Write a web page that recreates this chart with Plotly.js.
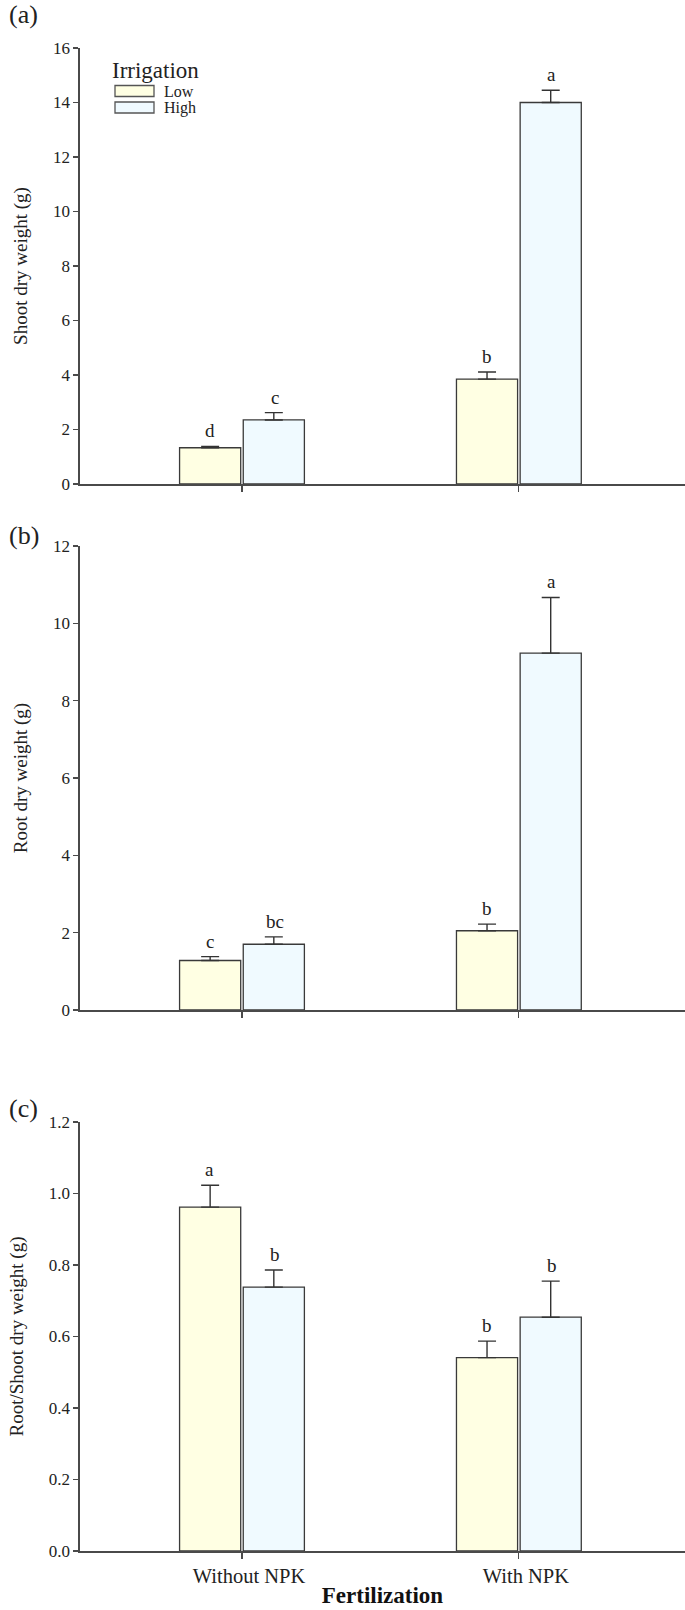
<!DOCTYPE html>
<html>
<head>
<meta charset="utf-8">
<script src="https://cdn.plot.ly/plotly-3.0.1.min.js"></script>
<style>html,body{margin:0;padding:0;background:#fff;}#chart{width:685px;height:1610px;}</style>
</head>
<body>
<div id="chart"></div>
<script>
// ---- data ----
const categories = ["Without NPK", "With NPK"];
const seriesNames = ["Low", "High"];

const shootLow = [1.33, 3.85];
const shootLowErr = [0.05, 0.26];
const shootHigh = [2.35, 14.0];
const shootHighErr = [0.27, 0.45];
const shootLowLetters = ["d", "b"];
const shootHighLetters = ["c", "a"];

const rootLow = [1.28, 2.05];
const rootLowErr = [0.10, 0.17];
const rootHigh = [1.70, 9.23];
const rootHighErr = [0.19, 1.44];
const rootLowLetters = ["c", "b"];
const rootHighLetters = ["bc", "a"];

const ratioLow = [0.962, 0.541];
const ratioLowErr = [0.061, 0.046];
const ratioHigh = [0.738, 0.654];
const ratioHighErr = [0.048, 0.101];
const ratioLowLetters = ["a", "b"];
const ratioHighLetters = ["b", "b"];

const yTitles = ["Shoot dry weight (g)", "Root dry weight (g)", "Root/Shoot dry weight (g)"];
const panelLabels = ["(a)", "(b)", "(c)"];
const xTitle = "Fertilization";
const legendTitle = "Irrigation";

// ---- styling ----
const FONT = "Liberation Serif, Times New Roman, serif";
const seriesColors = ["#FFFFE3", "#F0FAFF"];
const edge = "#3a3a3a";
const axisColor = "#4a4a4a";
const W = 685, H = 1610, ML = 80, PW = W - ML;
const px2x = (px) => (px - ML) / PW;
const px2y = (py) => 1 - py / H;

const panels = [
  {low: shootLow, lowErr: shootLowErr, high: shootHigh, highErr: shootHighErr,
   lowL: shootLowLetters, highL: shootHighLetters, range: [0, 16], dtick: 2, tickformat: "d"},
  {low: rootLow, lowErr: rootLowErr, high: rootHigh, highErr: rootHighErr,
   lowL: rootLowLetters, highL: rootHighLetters, range: [0, 12], dtick: 2, tickformat: "d"},
  {low: ratioLow, lowErr: ratioLowErr, high: ratioHigh, highErr: ratioHighErr,
   lowL: ratioLowLetters, highL: ratioHighLetters, range: [0, 1.2], dtick: 0.2, tickformat: ".1f"}
];

// pixel extents of each plot (top, bottom) and panel-label offsets
const extents = [[48, 484], [546, 1010], [1122, 1551]];
const labelOffsets = [33, 11, 14];

const traces = [];
const annotations = [];
const shapes = [];
const layout = {
  width: W, height: H,
  margin: {l: ML, r: 0, t: 0, b: 0},
  paper_bgcolor: "#fff", plot_bgcolor: "#fff",
  barmode: "group", bargap: 0.54, bargroupgap: 0.04,
  font: {family: FONT, color: "#222"},
  showlegend: false,
  annotations: annotations,
  shapes: shapes
};

panels.forEach((p, i) => {
  const n = i + 1;
  const xa = n === 1 ? "x" : "x" + n;
  const ya = n === 1 ? "y" : "y" + n;
  const xKey = n === 1 ? "xaxis" : "xaxis" + n;
  const yKey = n === 1 ? "yaxis" : "yaxis" + n;
  const [top, bot] = extents[i];

  [[p.low, p.lowErr, seriesColors[0], seriesNames[0]], [p.high, p.highErr, seriesColors[1], seriesNames[1]]].forEach(([vals, errs, col, name]) => {
    traces.push({
      type: "bar", x: categories, y: vals, name: name,
      xaxis: xa, yaxis: ya,
      marker: {color: col, line: {color: edge, width: 1.3}},
      error_y: {type: "data", symmetric: false, array: errs, arrayminus: errs.map(() => 0),
                color: "#333", thickness: 1.4, width: 9},
      hoverinfo: "skip"
    });
  });

  categories.forEach((c, j) => {
    annotations.push({x: c, y: p.low[j] + p.lowErr[j], xref: xa, yref: ya, xshift: -32, yshift: 3,
      yanchor: "bottom", showarrow: false, text: p.lowL[j], font: {family: FONT, size: 19, color: "#222"}});
    annotations.push({x: c, y: p.high[j] + p.highErr[j], xref: xa, yref: ya, xshift: 33, yshift: 3,
      yanchor: "bottom", showarrow: false, text: p.highL[j], font: {family: FONT, size: 19, color: "#222"}});
  });

  annotations.push({x: px2x(7), xref: "paper", y: px2y(top - labelOffsets[i]), yref: "paper",
    xanchor: "left", yanchor: "middle", showarrow: false, text: panelLabels[i],
    font: {family: FONT, size: 26, color: "#222"}});

  layout[xKey] = {
    domain: [0, 1], anchor: ya, range: [-0.585, 1.6], type: "category",
    showline: true, linecolor: axisColor, linewidth: 1.6,
    ticks: "outside", ticklen: 6, tickwidth: 1.2, tickcolor: axisColor,
    showticklabels: i === 2, showgrid: false, zeroline: false,
    ticklabelshift: 7,
    tickfont: {family: FONT, size: 20.5, color: "#222"},
    title: i === 2 ? {text: "<b>" + xTitle + "</b>", font: {family: FONT, size: 23, color: "#111"}, standoff: 0} : {text: ""}
  };
  layout[yKey] = {
    domain: [px2y(bot), px2y(top)], anchor: xa, range: p.range, dtick: p.dtick, tick0: 0,
    tickformat: p.tickformat,
    showline: true, linecolor: axisColor, linewidth: 1.6,
    ticks: "outside", ticklen: 5, tickwidth: 1.2, tickcolor: axisColor,
    showgrid: false, zeroline: false,
    tickfont: {family: FONT, size: 17, color: "#222"},
    title: {text: yTitles[i], font: {family: FONT, size: 19, color: "#222"}, standoff: 20}
  };
});

// ---- legend (drawn as layout shapes + text) ----
annotations.push({x: px2x(110), y: px2y(71), xref: "paper", yref: "paper", xanchor: "left", yanchor: "middle",
  showarrow: false, text: legendTitle, font: {family: FONT, size: 23, color: "#222"}});
seriesNames.forEach((name, k) => {
  const cy = 91 + k * 16.5;
  shapes.push({type: "rect", xref: "paper", yref: "paper",
    x0: px2x(115), x1: px2x(154), y0: px2y(cy - 5.5), y1: px2y(cy + 5.5),
    fillcolor: seriesColors[k], line: {color: "#555", width: 1.3}});
  annotations.push({x: px2x(162), y: px2y(cy), xref: "paper", yref: "paper", xanchor: "left", yanchor: "middle",
    showarrow: false, text: name, font: {family: FONT, size: 16, color: "#222"}});
});

Plotly.newPlot("chart", traces, layout, {staticPlot: true});
</script>
</body>
</html>
